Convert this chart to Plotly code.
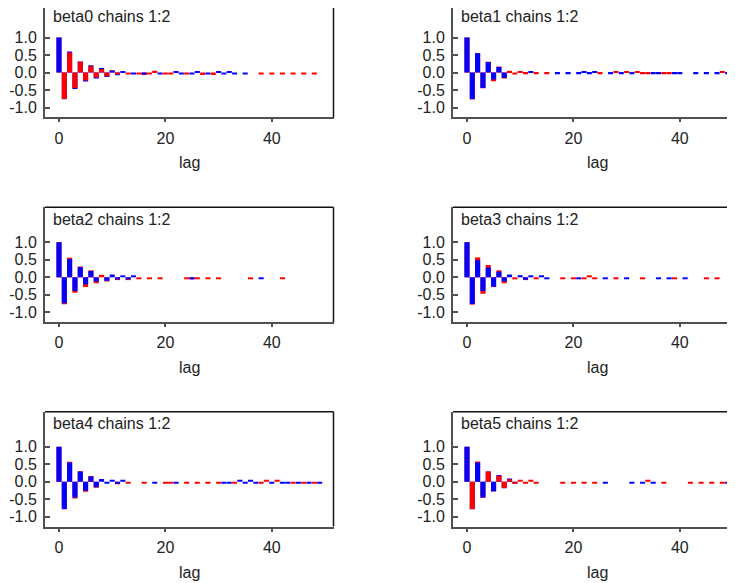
import plotly.graph_objects as go

# ---------------- data ----------------
lags = list(range(51))
panel_names = ["beta0", "beta1", "beta2", "beta3", "beta4", "beta5"]
panel_titles = ["beta0 chains 1:2", "beta1 chains 1:2", "beta2 chains 1:2",
                "beta3 chains 1:2", "beta4 chains 1:2", "beta5 chains 1:2"]
x_ticks = [0, 20, 40]
y_ticks = [-1.0, -0.5, 0.0, 0.5, 1.0]
y_tick_labels = ["-1.0", "-0.5", "0.0", "0.5", "1.0"]
x_label = "lag"

# autocorrelation, chain 1 (blue) and chain 2 (red), lags 0..50
beta0_chain1 = [1.0, -0.765, 0.60, -0.47, 0.315, -0.26, 0.21, -0.17, 0.13, -0.13,
                0.06, -0.08, 0.04, 0.0, -0.06, 0.0, -0.06, 0.0, 0.0, -0.06,
                0.0, 0.0, 0.04, -0.06, 0.0, -0.06, 0.04, 0.0, -0.06, 0.0,
                0.04, -0.06, 0.04, -0.06, 0.0, -0.06, 0.0, 0.0, 0.0, 0.0,
                0.0, 0.0, 0.0, 0.0, 0.0, 0.0, 0.0, 0.0, 0.0, 0.0,
                0.0]
beta0_chain2 = [1.0, -0.76, 0.57, -0.44, 0.31, -0.23, 0.18, -0.14, 0.10, -0.11,
                0.065, -0.06, 0.0, -0.06, 0.0, -0.06, -0.07, -0.06, 0.05, 0.0,
                -0.06, -0.06, 0.0, 0.0, -0.06, 0.0, 0.0, -0.07, 0.0, -0.07,
                0.0, 0.0, 0.0, 0.0, 0.0, 0.0, 0.0, 0.0, -0.06, 0.0,
                -0.06, 0.0, -0.06, 0.0, -0.06, 0.0, -0.06, 0.0, -0.06, 0.0,
                0.0]
beta1_chain1 = [1.0, -0.76, 0.55, -0.44, 0.30, -0.20, 0.16, -0.16, 0.0, 0.0,
                0.0, 0.0, 0.04, 0.0, 0.0, 0.0, 0.0, -0.05, 0.0, -0.05,
                0.0, -0.05, 0.04, -0.05, 0.04, 0.0, 0.0, -0.05, 0.0, -0.05,
                0.0, -0.05, 0.0, 0.0, 0.0, -0.05, -0.05, 0.0, 0.0, -0.05,
                -0.05, 0.0, 0.0, -0.05, 0.0, -0.05, 0.0, -0.05, 0.0, -0.05,
                0.0]
beta1_chain2 = [1.0, -0.77, 0.56, -0.45, 0.31, -0.25, 0.17, -0.17, 0.05, -0.06,
                0.03, -0.05, 0.0, -0.05, 0.0, -0.05, 0.0, 0.0, 0.0, 0.0,
                0.0, 0.0, 0.0, 0.0, 0.0, -0.05, 0.0, 0.0, 0.04, 0.0,
                0.04, 0.0, 0.04, -0.05, -0.05, 0.0, 0.0, -0.05, -0.05, 0.0,
                0.0, 0.0, 0.0, 0.0, 0.0, 0.0, 0.0, 0.0, 0.04, 0.0,
                0.0]
beta2_chain1 = [1.0, -0.74, 0.52, -0.39, 0.29, -0.20, 0.18, -0.12, 0.0, -0.10,
                0.08, -0.06, 0.04, -0.06, 0.04, 0.0, 0.0, 0.0, 0.0, 0.0,
                0.0, 0.0, 0.0, 0.0, 0.0, -0.05, 0.0, 0.0, 0.0, 0.0,
                0.0, 0.0, 0.0, 0.0, 0.0, 0.0, 0.0, 0.0, -0.05, 0.0,
                0.0, 0.0, 0.0, 0.0, 0.0, 0.0, 0.0, 0.0, 0.0, 0.0,
                0.0]
beta2_chain2 = [1.0, -0.77, 0.56, -0.44, 0.31, -0.28, 0.20, -0.17, 0.07, -0.12,
                0.0, -0.08, 0.0, -0.08, 0.0, -0.05, 0.0, -0.05, 0.0, -0.05,
                0.0, 0.0, 0.0, 0.0, -0.05, -0.06, -0.05, 0.0, -0.05, 0.0,
                -0.05, 0.0, 0.0, 0.0, 0.0, 0.0, -0.05, 0.0, 0.0, 0.0,
                0.0, 0.0, -0.05, 0.0, 0.0, 0.0, 0.0, 0.0, 0.0, 0.0,
                0.0]
beta3_chain1 = [1.0, -0.76, 0.49, -0.39, 0.28, -0.27, 0.16, -0.12, 0.08, 0.0,
                0.06, -0.07, 0.04, 0.0, 0.04, -0.05, 0.0, 0.0, 0.0, 0.0,
                0.0, -0.05, 0.0, 0.0, 0.0, 0.0, -0.05, 0.0, 0.0, 0.0,
                -0.05, 0.0, 0.0, 0.0, 0.0, 0.0, -0.05, 0.0, -0.05, 0.0,
                0.0, -0.05, 0.0, 0.0, 0.0, 0.0, 0.0, 0.0, 0.0, 0.0,
                0.0]
beta3_chain2 = [1.0, -0.78, 0.57, -0.47, 0.35, -0.28, 0.20, -0.17, 0.0, -0.06,
                0.0, -0.08, 0.0, -0.05, 0.0, 0.0, 0.0, 0.0, -0.05, 0.0,
                -0.05, 0.0, -0.05, 0.04, -0.05, 0.0, 0.0, 0.0, -0.05, 0.0,
                0.0, 0.0, 0.0, -0.05, 0.0, 0.0, 0.0, 0.0, 0.0, -0.05,
                0.0, 0.0, 0.0, 0.0, 0.0, -0.05, 0.0, -0.05, 0.0, 0.0,
                0.0]
beta4_chain1 = [1.0, -0.78, 0.55, -0.45, 0.29, -0.26, 0.15, -0.16, 0.08, -0.05,
                0.03, -0.05, 0.04, 0.0, 0.0, 0.0, 0.0, 0.0, -0.05, 0.0,
                0.0, 0.0, -0.05, 0.0, 0.0, 0.0, 0.0, 0.0, 0.0, 0.0,
                0.0, -0.05, -0.05, 0.0, 0.04, -0.05, 0.04, -0.05, 0.0, 0.0,
                -0.05, 0.0, -0.05, -0.05, 0.0, -0.05, 0.0, -0.05, 0.0, -0.05,
                0.0]
beta4_chain2 = [1.0, -0.79, 0.57, -0.48, 0.30, -0.29, 0.16, -0.17, 0.0, 0.0,
                0.0, -0.07, 0.0, -0.05, 0.0, 0.0, -0.05, 0.0, 0.0, 0.0,
                -0.05, -0.05, 0.0, 0.0, -0.05, 0.0, -0.05, 0.0, -0.05, 0.0,
                -0.05, 0.0, 0.0, -0.05, 0.0, 0.0, 0.0, 0.0, -0.05, 0.04,
                0.0, 0.04, 0.0, 0.0, -0.05, 0.0, -0.05, 0.0, -0.05, 0.0,
                0.0]
beta5_chain1 = [1.0, -0.785, 0.55, -0.45, 0.295, -0.27, 0.19, -0.185, 0.09, -0.06,
                0.0, 0.0, 0.0, 0.0, 0.0, 0.0, 0.0, 0.0, 0.0, 0.0,
                0.0, 0.0, 0.0, 0.0, 0.0, 0.0, -0.05, 0.0, 0.0, 0.0,
                0.0, -0.05, 0.0, -0.05, 0.0, -0.05, 0.0, 0.0, 0.0, 0.0,
                0.0, 0.0, 0.0, 0.0, 0.0, 0.0, 0.0, 0.0, 0.0, -0.05,
                0.0]
beta5_chain2 = [1.0, -0.78, 0.58, -0.46, 0.29, -0.28, 0.17, -0.18, 0.07, -0.05,
                0.03, -0.04, 0.03, -0.05, 0.0, 0.0, 0.0, 0.0, -0.05, 0.0,
                -0.05, 0.0, -0.05, 0.0, -0.05, 0.0, 0.0, 0.0, 0.0, 0.0,
                0.0, 0.0, 0.0, 0.0, 0.03, 0.0, 0.0, -0.05, 0.0, 0.0,
                0.0, 0.0, -0.05, 0.0, -0.05, 0.0, -0.05, 0.0, -0.05, 0.0,
                0.0]

chains = {
    "beta0": (beta0_chain1, beta0_chain2),
    "beta1": (beta1_chain1, beta1_chain2),
    "beta2": (beta2_chain1, beta2_chain2),
    "beta3": (beta3_chain1, beta3_chain2),
    "beta4": (beta4_chain1, beta4_chain2),
    "beta5": (beta5_chain1, beta5_chain2),
}

# ---------------- styling / layout ----------------
PAGE_OFF = 8                      # default <body> margin of the html page
VIEW_W, VIEW_H = 735, 583
FIG_W, FIG_H = VIEW_W - PAGE_OFF, VIEW_H - PAGE_OFF
BLUE, RED = "#0000ff", "#ff0000"
AXIS_COLOR = "#505050"
TEXT_COLOR = "#222222"
FONT = "Liberation Sans, Arial, sans-serif"
FS = 16

# panel geometry in screen pixels
col_px = [(45.0, 333.5), (453.0, 741.5)]
row_px = [(2.5, 117.3), (207.3, 322.1), (411.7, 526.5)]
x_full = [-2.63, 51.6]
y_full = [-1.28, 2.0]
label_x_px = [189.0, 597.5]


def fx(px):
    return (px - PAGE_OFF) / FIG_W


def fy(py):
    return 1 - (py - PAGE_OFF) / FIG_H


fig = go.Figure()
layout = dict(
    width=FIG_W, height=FIG_H, margin=dict(l=0, r=0, t=0, b=0, pad=0),
    paper_bgcolor="white", plot_bgcolor="white",
    showlegend=False, barmode="overlay",
    font=dict(family=FONT, size=FS, color=TEXT_COLOR),
)
shapes, annotations = [], []

for i, name in enumerate(panel_names):
    row, col = divmod(i, 2)
    n = "" if i == 0 else str(i + 1)
    c1, c2 = chains[name]

    back_y, back_c, front_y, front_c = [], [], [], []
    for a, b in zip(c1, c2):
        if abs(a) > abs(b):
            back_y.append(a); back_c.append(BLUE)
            front_y.append(b); front_c.append(RED)
        else:
            back_y.append(b); back_c.append(RED)
            front_y.append(a); front_c.append(BLUE)

    for ys, cs in ((back_y, back_c), (front_y, front_c)):
        fig.add_trace(go.Bar(
            x=lags, y=ys, width=0.95,
            marker=dict(color=cs, line=dict(width=0)),
            xaxis="x" + n, yaxis="y" + n, hoverinfo="skip",
        ))

    # clip panel to visible page area, adjusting ranges accordingly
    x0, x1 = col_px[col]
    top, bot = row_px[row]
    ppx = (x1 - x0) / (x_full[1] - x_full[0])
    ppy = (bot - top) / (y_full[1] - y_full[0])
    x1c = min(x1, VIEW_W)
    topc = max(top, PAGE_OFF)
    xr = [x_full[0], x_full[0] + (x1c - x0) / ppx]
    yr = [y_full[0], y_full[0] + (bot - topc) / ppy]

    layout["xaxis" + n] = dict(
        domain=[fx(x0), fx(x1c)], range=xr, anchor="y" + n,
        tickvals=x_ticks, ticks="outside", ticklen=3, tickwidth=1.5,
        tickcolor=AXIS_COLOR, showline=True, linecolor=AXIS_COLOR, linewidth=2,
        showgrid=False, zeroline=False, ticklabelstandoff=2,
        tickfont=dict(family=FONT, size=FS, color=TEXT_COLOR),
    )
    layout["yaxis" + n] = dict(
        domain=[fy(bot), fy(topc)], range=yr, anchor="x" + n,
        tickvals=y_ticks, ticktext=y_tick_labels, ticks="inside", ticklen=5,
        tickwidth=1.5, tickcolor=AXIS_COLOR, showline=True, linecolor=AXIS_COLOR,
        linewidth=2, showgrid=False, zeroline=False, ticklabelstandoff=3,
        tickfont=dict(family=FONT, size=FS, color=TEXT_COLOR),
    )

    xd, yd = "x" + n + " domain", "y" + n + " domain"
    if x1 <= VIEW_W:
        shapes.append(dict(type="line", xref=xd, yref=yd, x0=1, x1=1, y0=0, y1=1,
                           line=dict(color="#111111", width=1.5)))
    if top >= PAGE_OFF:
        shapes.append(dict(type="line", xref=xd, yref=yd, x0=0, x1=1, y0=1, y1=1,
                           line=dict(color="#111111", width=1.5)))

    title_y = max(top + 12.0, PAGE_OFF + 8.5)
    annotations.append(dict(
        text=panel_titles[i], xref="paper", yref="paper", x=fx(x0 + 6),
        xanchor="left", y=fy(title_y), yanchor="middle", showarrow=False,
        font=dict(family=FONT, size=FS, color=TEXT_COLOR),
    ))
    annotations.append(dict(
        text=x_label, xref="paper", yref="paper", x=fx(label_x_px[col]),
        xanchor="center", y=fy(bot + 45.5), yanchor="middle", showarrow=False,
        font=dict(family=FONT, size=FS, color=TEXT_COLOR),
    ))

layout["shapes"] = shapes
layout["annotations"] = annotations
fig.update_layout(**layout)
fig.write_html("out.html")
